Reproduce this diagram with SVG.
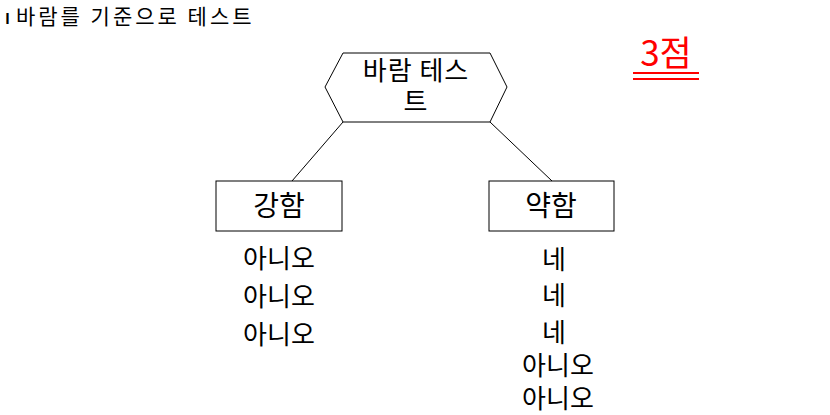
<svg xmlns="http://www.w3.org/2000/svg" width="830" height="415" viewBox="0 0 830 415">
<style>
text{font-family:"Noto Sans CJK KR","Noto Sans",sans-serif;fill:#000}
.n{fill:#fff;stroke:#000;stroke-width:1}
.c{stroke:#000;stroke-width:1;fill:none}
.t{font-size:26px;text-anchor:middle;letter-spacing:1px}
.b{font-size:28px;text-anchor:middle}
.a{font-size:26px;text-anchor:middle}
</style>
<rect width="830" height="415" fill="#fff"/>
<text x="5" y="24" font-size="21" letter-spacing="3"><tspan font-size="15" font-weight="bold" letter-spacing="6">I</tspan>바람를 기준으로 테스트</text>
<g id="connectors">
<line class="c" x1="343" y1="122" x2="292" y2="181"/>
<line class="c" x1="490" y1="122" x2="552" y2="181"/>
</g>
<g id="root">
<polygon class="n" points="343,53 490,53 507,87 490,122 343,122 325,87"/>
<text class="t" x="416" y="80">바람 테스</text>
<text class="t" x="416" y="111">트</text>
</g>
<g id="strong">
<rect class="n" x="216" y="181" width="126" height="50"/>
<text class="b" x="279" y="216">강함</text>
</g>
<g id="weak">
<rect class="n" x="489" y="181" width="125" height="50"/>
<text class="b" x="551" y="216">약함</text>
</g>
<g id="strong-answers">
<text class="a" x="279" y="268">아니오</text>
<text class="a" x="279" y="306">아니오</text>
<text class="a" x="279" y="344">아니오</text>
</g>
<g id="weak-answers">
<text class="a" x="554" y="269">네</text>
<text class="a" x="554" y="305">네</text>
<text class="a" x="554" y="342">네</text>
<text class="a" x="558" y="375">아니오</text>
<text class="a" x="558" y="408">아니오</text>
</g>
<g id="score">
<text x="666" y="66" font-size="35" text-anchor="middle" style="fill:#f00">3점</text>
<rect x="633" y="72" width="66" height="2" fill="#f00"/>
<rect x="633" y="78" width="66" height="2" fill="#f00"/>
</g>
</svg>
